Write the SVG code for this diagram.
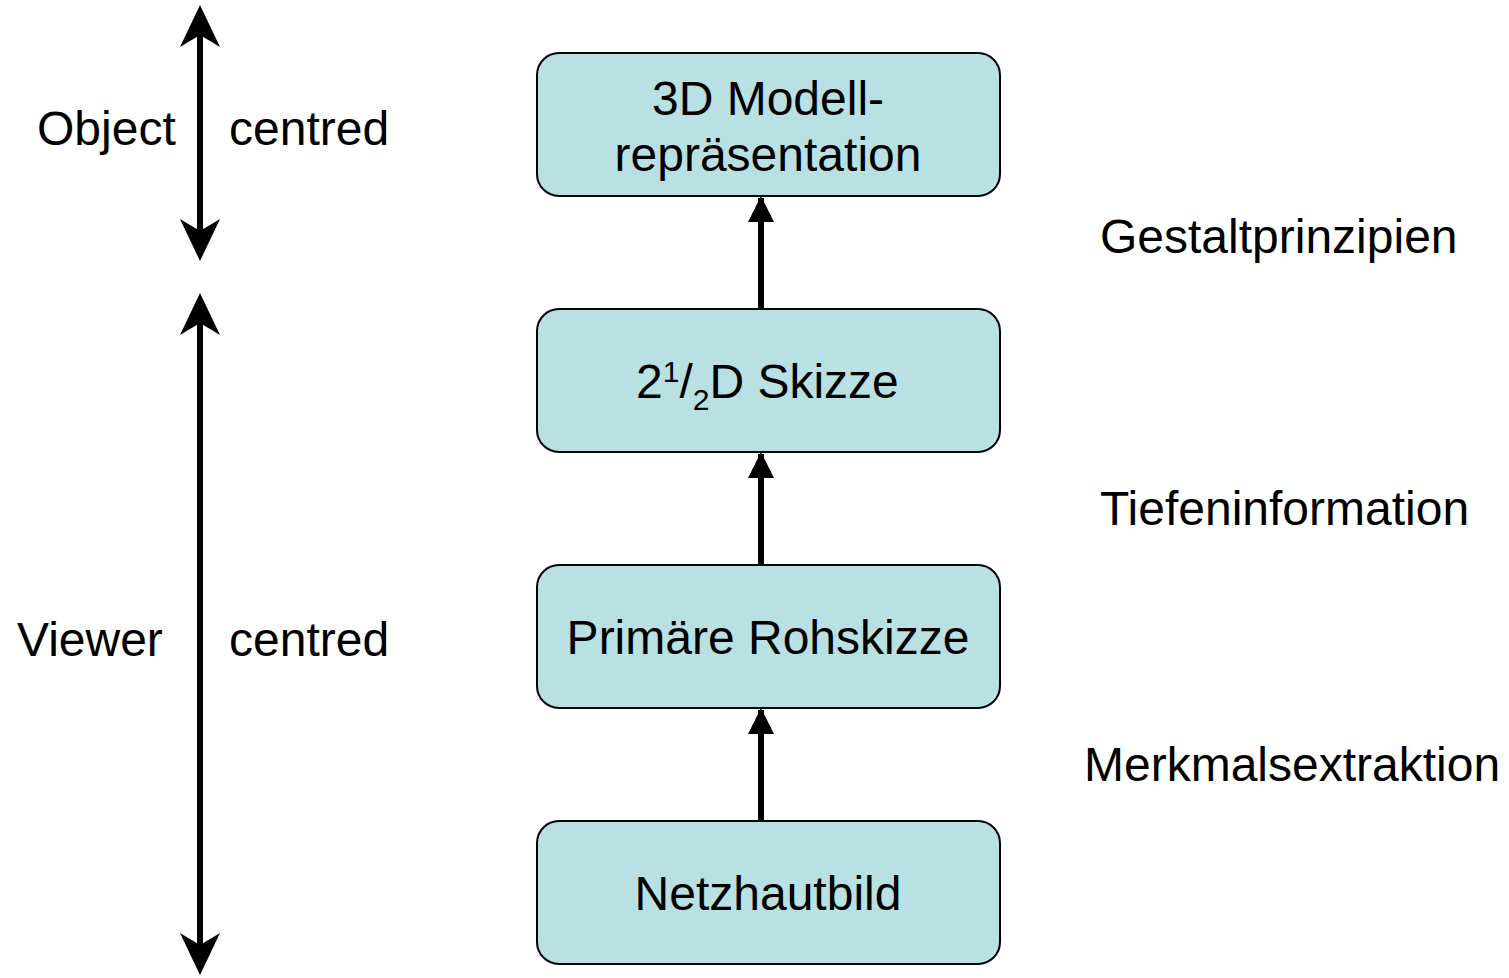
<svg xmlns="http://www.w3.org/2000/svg" width="1509" height="978" viewBox="0 0 1509 978">
<style>
.box{fill:#b9e0e3;stroke:#000;stroke-width:2}
.t{font-family:"Liberation Sans",Arial,sans-serif;font-size:48px;fill:#000}
.c{text-anchor:middle}
.ln{stroke:#000;stroke-width:6;fill:none}
</style>
<defs>
<marker id="ah" markerUnits="userSpaceOnUse" markerWidth="26" markerHeight="26" viewBox="0 0 26 26" refX="24" refY="13" orient="auto">
<path d="M0,0 L26,13 L0,26 Z" fill="#000"/>
</marker>
<marker id="big" markerUnits="userSpaceOnUse" markerWidth="42" markerHeight="42" viewBox="0 0 42 42" refX="12" refY="21" orient="auto-start-reverse">
<path d="M0,1 L42,21 L0,41 L12,21 Z" fill="#000"/>
</marker>
</defs>
<g id="connectors">
<line class="ln" x1="200" y1="231" x2="200" y2="35" marker-end="url(#big)" marker-start="url(#big)"/>
<line class="ln" x1="200" y1="323" x2="200" y2="945" marker-end="url(#big)" marker-start="url(#big)"/>
<line class="ln" x1="761" y1="309" x2="761" y2="198" marker-end="url(#ah)"/>
<line class="ln" x1="761" y1="565" x2="761" y2="454" marker-end="url(#ah)"/>
<line class="ln" x1="761" y1="821" x2="761" y2="710" marker-end="url(#ah)"/>
</g>
<g id="n1"><rect class="box" x="537" y="53" width="463" height="143" rx="22"/>
<text class="t c" x="768" y="115">3D Modell-</text><text class="t c" x="768" y="171">repräsentation</text></g>
<g id="n2"><rect class="box" x="537" y="309" width="463" height="143" rx="22"/>
<text class="t" x="636" y="398">2<tspan font-size="30" dy="-16">1</tspan><tspan dy="16">/</tspan><tspan font-size="30" dy="12">2</tspan><tspan dy="-12">D Skizze</tspan></text></g>
<g id="n3"><rect class="box" x="537" y="565" width="463" height="143" rx="22"/>
<text class="t c" x="768" y="654">Primäre Rohskizze</text></g>
<g id="n4"><rect class="box" x="537" y="821" width="463" height="143" rx="22"/>
<text class="t c" x="768" y="910">Netzhautbild</text></g>
<g id="labels">
<text class="t" x="37" y="145">Object</text>
<text class="t" x="229" y="145">centred</text>
<text class="t" x="17" y="656">Viewer</text>
<text class="t" x="229" y="656">centred</text>
<text class="t" x="1100" y="253">Gestaltprinzipien</text>
<text class="t" x="1100" y="525">Tiefeninformation</text>
<text class="t" x="1084" y="781">Merkmalsextraktion</text>
</g>
</svg>
